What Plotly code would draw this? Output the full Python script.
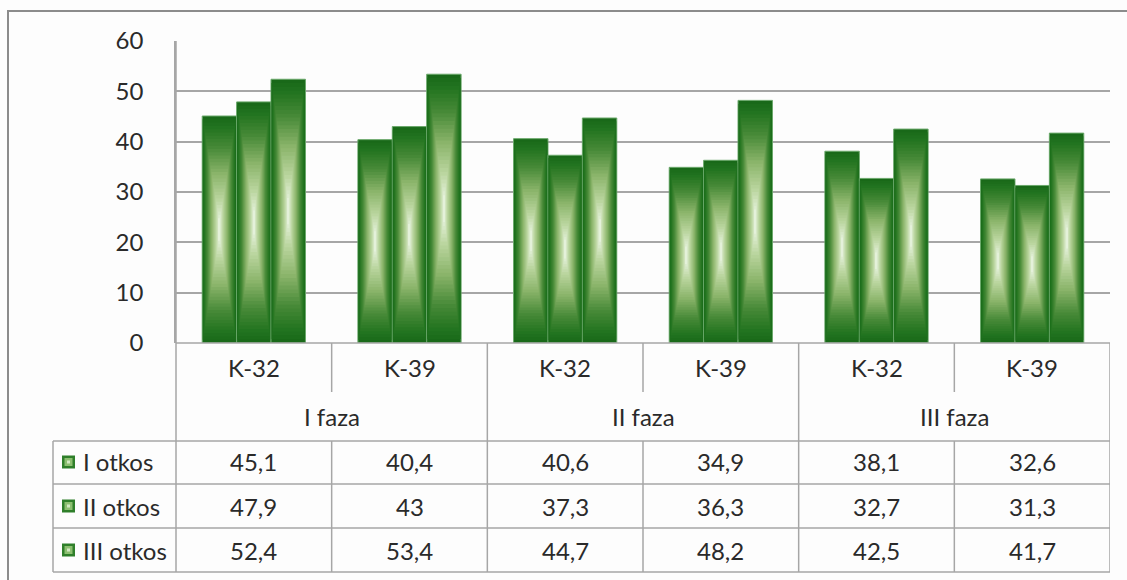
import plotly.graph_objects as go

# ---------------- data ----------------
phases = ["I faza", "II faza", "III faza"]
varieties = ["K-32", "K-39", "K-32", "K-39", "K-32", "K-39"]
series_names = ["I otkos", "II otkos", "III otkos"]
otkos_1 = [45.1, 40.4, 40.6, 34.9, 38.1, 32.6]
otkos_2 = [47.9, 43.0, 37.3, 36.3, 32.7, 31.3]
otkos_3 = [52.4, 53.4, 44.7, 48.2, 42.5, 41.7]
y_ticks = [0, 10, 20, 30, 40, 50, 60]

series_values = [otkos_1, otkos_2, otkos_3]

# ---------------- layout geometry (pixels) ----------------
FW, FH = 1127, 580
L, R, T, B = 176, 1110, 41, 343
W, H = R - L, B - T


def xp(px):
    return (px - L) / W


def yp(py):
    return (B - py) / H


FONT = "Lato"
FS = 24
TXT = "#2a2a2a"
GRID = "#a6a6a6"

# gradient colour stops for the bars (outer -> centre)
stops = [(0.0, (25, 105, 25)), (0.1, (34, 116, 32)), (0.3, (72, 138, 56)),
         (0.55, (138, 180, 106)), (0.8, (186, 213, 158)), (1.0, (228, 241, 218))]


def grad(t):
    for (t0, c0), (t1, c1) in zip(stops[:-1], stops[1:]):
        if t <= t1:
            f = (t - t0) / (t1 - t0) if t1 > t0 else 0
            c = [round(a + (b - a) * f) for a, b in zip(c0, c1)]
            return "rgb(%d,%d,%d)" % tuple(c)
    return "rgb(%d,%d,%d)" % stops[-1][1]


fig = go.Figure()
n = len(varieties)
idx = list(range(n))
bw = 0.221
N = 32
for s, vals in enumerate(series_values):
    xs = [i + (s - 1) * bw for i in idx]
    for k in range(N):
        t = k / (N - 1)
        sw = 1 - 0.97 * t
        sh = 1 - 0.9 * t
        fig.add_trace(go.Bar(
            x=xs,
            y=[v * sh for v in vals],
            base=[v * (1 - sh) / 2 for v in vals],
            width=bw * sw,
            marker=dict(color=grad(t),
                        line=dict(width=1 if k == 0 else 0, color="#6aa86a")),
            name=series_names[s],
            showlegend=False,
            hoverinfo="skip" if k else None,
        ))

shapes = []
line = dict(color=GRID, width=1.5)
# outer chart border
shapes.append(dict(type="rect", xref="paper", yref="paper", x0=xp(8), x1=xp(1160),
                   y0=yp(620), y1=yp(11), line=dict(color="#8c8c8c", width=2)))
# bottom of plot / top of table
shapes.append(dict(type="line", xref="paper", yref="paper", x0=0, x1=1, y0=0, y1=0, line=line))
# table horizontal lines
for py in [441, 484, 528, 572]:
    shapes.append(dict(type="line", xref="paper", yref="paper", x0=xp(53), x1=1,
                       y0=yp(py), y1=yp(py), line=line))
# left edges
shapes.append(dict(type="line", xref="paper", yref="paper", x0=0, x1=0,
                   y0=yp(572), y1=1, line=line))
shapes.append(dict(type="line", xref="paper", yref="paper", x0=xp(53), x1=xp(53),
                   y0=yp(572), y1=yp(441), line=line))
# column boundaries
for j in range(1, n + 1):
    xb = j - 0.5
    if j % 2 == 0:
        shapes.append(dict(type="line", xref="x", yref="paper", x0=xb, x1=xb,
                           y0=yp(572), y1=0, line=line))
    else:
        shapes.append(dict(type="line", xref="x", yref="paper", x0=xb, x1=xb,
                           y0=yp(392), y1=0, line=line))
        shapes.append(dict(type="line", xref="x", yref="paper", x0=xb, x1=xb,
                           y0=yp(572), y1=yp(441), line=line))

row_y = [462, 506, 550]
# legend keys in table
for r in range(3):
    cy = row_y[r]
    shapes.append(dict(type="rect", xref="paper", yref="paper", x0=xp(62), x1=xp(75),
                       y0=yp(cy + 6.5), y1=yp(cy - 6.5),
                       fillcolor="#2f7f2a", line=dict(width=0)))
    shapes.append(dict(type="rect", xref="paper", yref="paper", x0=xp(64.5), x1=xp(72.5),
                       y0=yp(cy + 4), y1=yp(cy - 4),
                       fillcolor="#8cbf70", line=dict(width=0)))
    shapes.append(dict(type="rect", xref="paper", yref="paper", x0=xp(67), x1=xp(70),
                       y0=yp(cy + 1.5), y1=yp(cy - 1.5),
                       fillcolor="#d2e8c2", line=dict(width=0)))


def fmt(v):
    s = ("%.1f" % v).rstrip("0").rstrip(".")
    return s.replace(".", ",")


ann = []
font = dict(family=FONT, size=FS, color=TXT)
for i, lab in enumerate(varieties):
    ann.append(dict(x=i, y=yp(367), xref="x", yref="paper", text=lab, showarrow=False,
                    font=font, xanchor="center", yanchor="middle"))
for p, lab in enumerate(phases):
    ann.append(dict(x=2 * p + 0.5, y=yp(416), xref="x", yref="paper", text=lab,
                    showarrow=False, font=font, xanchor="center", yanchor="middle"))
for r, (name, vals) in enumerate(zip(series_names, series_values)):
    ann.append(dict(x=xp(81), y=yp(row_y[r]), xref="paper", yref="paper", text=name,
                    showarrow=False, font=font, xanchor="left", yanchor="middle"))
    for i, v in enumerate(vals):
        ann.append(dict(x=i, y=yp(row_y[r]), xref="x", yref="paper", text=fmt(v),
                        showarrow=False, font=font, xanchor="center", yanchor="middle"))

fig.update_layout(
    width=FW, height=FH,
    margin=dict(l=L, r=FW - R, t=T, b=FH - B, pad=0),
    paper_bgcolor="#fdfdfd", plot_bgcolor="#fdfdfd",
    barmode="overlay",
    showlegend=False,
    xaxis=dict(range=[-0.5, n - 0.5], showticklabels=False, showgrid=False,
               zeroline=False, ticks="", fixedrange=True),
    yaxis=dict(range=[0, 60], tickvals=y_ticks, showgrid=True, gridcolor=GRID,
               gridwidth=1.5, showline=True, linecolor=GRID, linewidth=1.5,
               zeroline=False, ticks="", ticklabelstandoff=26,
               tickfont=dict(family=FONT, size=FS, color=TXT)),
    shapes=shapes,
    annotations=ann,
)

fig.write_html("out.html")
